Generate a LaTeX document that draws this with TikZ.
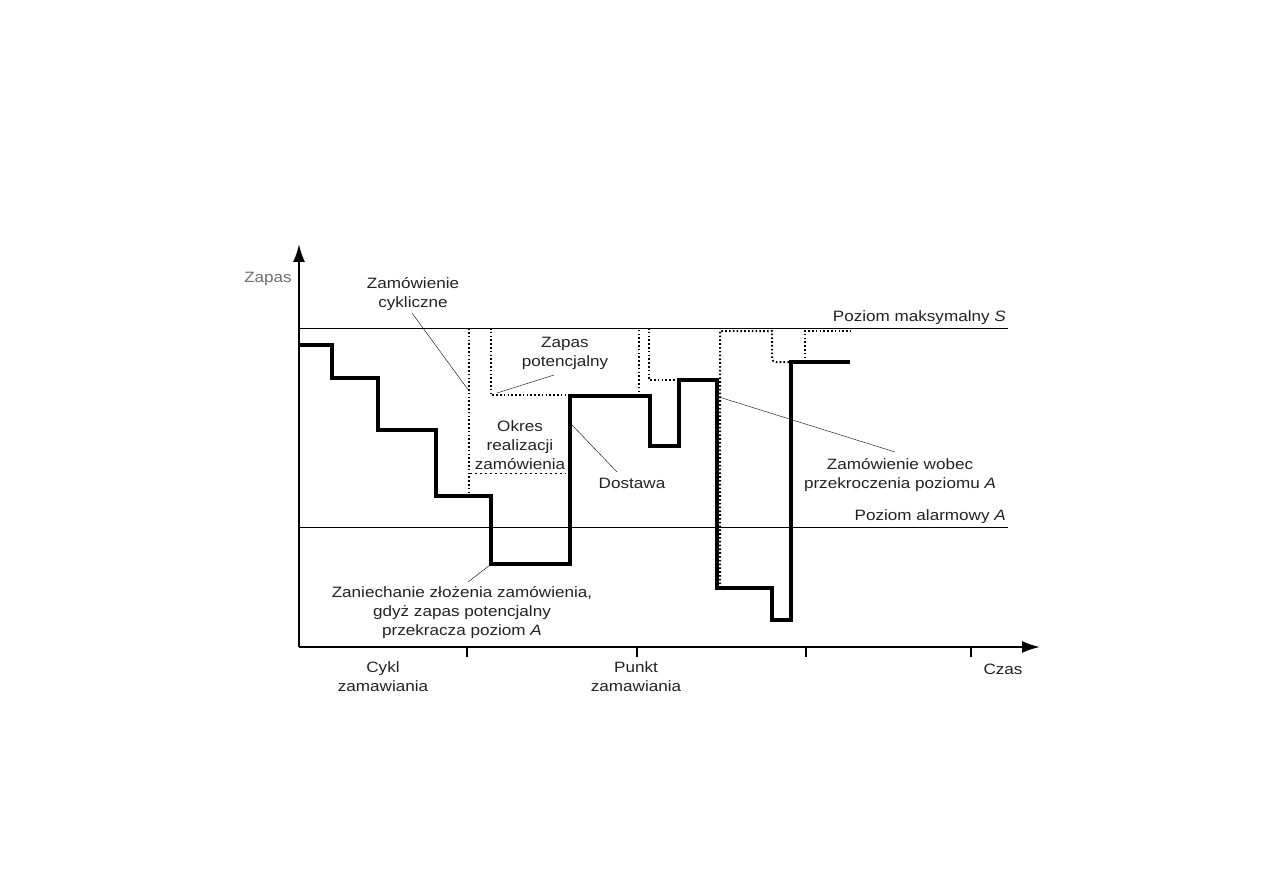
\documentclass[tikz,border=0pt]{standalone}
\usepackage{fontspec}
\setmainfont{Liberation Sans}[FakeStretch=1.14]
\usetikzlibrary{arrows.meta}
\definecolor{txt}{HTML}{222222}
\definecolor{thin}{HTML}{8A8A8A}
\tikzset{
  lbl/.style={inner sep=0pt, align=center, text=txt, font=\fontsize{15}{19}\selectfont},
  axis/.style={line width=2pt, black},
  stock/.style={line width=3.2pt, black, line join=miter},
  pot/.style={line width=2pt, black, dash pattern=on 1.6pt off 2.2pt},
  okres/.style={line width=1pt, thin, dash pattern=on 2pt off 3pt},
  level/.style={line width=1pt, thin},
  leader/.style={line width=1pt, thin}
}
\begin{document}
\begin{tikzpicture}[x=1pt,y=-1pt]
\useasboundingbox (0,0) rectangle (1263,893);
% level lines
\coordinate (sL) at (299,328); \coordinate (sR) at (1008,328);
\coordinate (aL) at (299,527); \coordinate (aR) at (1008,527);
\draw[level] (sL) -- (sR);
\draw[level] (aL) -- (aR);
% axes
\coordinate (O) at (299,647);
\coordinate (ytip) at (299,244);
\coordinate (xtip) at (1040,647);
\draw[axis,-{Latex[length=18pt,width=12pt]}] (O) -- (ytip);
\draw[axis,-{Latex[length=18pt,width=12pt]}] (O) -- (xtip);
\foreach \x in {467,637,806,971}{\draw[line width=1.3pt] (\x,647) -- (\x,657);}
% potential stock (dotted)
\draw[pot] (469,497) -- (469,328);
\draw[pot] (491,328) -- (491,395) -- (570,395);
\draw[okres] (470,473) -- (566,473);
\draw[pot] (639,396) -- (639,328);
\draw[pot] (649,328) -- (649,380) -- (679,380);
\draw[pot] (720,588) -- (720,331) -- (772,331) -- (772,356) [rounded corners=4pt] -- (772,362) -- (790,362);
\draw[pot] (805,362) -- (805,331) -- (851,331);
% stock
\draw[stock] (299,345) -- (332,345) -- (332,378) -- (378,378) -- (378,430) -- (436,430)
  -- (436,496) -- (491,496) -- (491,564) -- (570,564) -- (570,396) -- (650,396)
  -- (650,446) -- (679,446) -- (679,380) -- (717,380) -- (717,588) -- (772,588)
  -- (772,620) -- (791,620) -- (791,362) -- (850,362);
% labels
\node[lbl, text=thin!80!black, anchor=east] (zapas) at (292,279) {Zapas};
\node[lbl, anchor=south east] (smax) at (1006,325) {Poziom maksymalny \textit{S}};
\node[lbl, anchor=south east] (salarm) at (1006,524) {Poziom alarmowy \textit{A}};
\node[lbl] (cykl) at (413,294) {Zamówienie\\cykliczne};
\node[lbl] (potenc) at (565,353) {Zapas\\potencjalny};
\node[lbl] (okresl) at (520,445) {Okres\\realizacji\\zamówienia};
\node[lbl] (dost) at (632,483) {Dostawa};
\node[lbl] (wobec) at (900,475) {Zamówienie wobec\\przekroczenia poziomu \textit{A}};
\node[lbl] (zaniech) at (462,613) {Zaniechanie złożenia zamówienia,\\gdyż zapas potencjalny\\przekracza poziom \textit{A}};
\node[lbl] (cyklz) at (383,677) {Cykl\\zamawiania};
\node[lbl] (punkt) at (636,677) {Punkt\\zamawiania};
\node[lbl] (czas) at (1003,669) {Czas};
% leader lines
\coordinate (c1) at (412,313); \coordinate (c1e) at (469,391);
\coordinate (c2) at (554,375); \coordinate (c2e) at (497,393);
\coordinate (c3) at (617,472); \coordinate (c3e) at (572,425);
\coordinate (c4) at (895,452); \coordinate (c4e) at (719,397);
\coordinate (c5) at (468,582); \coordinate (c5e) at (490,565);
\draw[leader] (c1) -- (c1e);
\draw[leader] (c2) -- (c2e);
\draw[leader] (c3) -- (c3e);
\draw[leader] (c4) -- (c4e);
\draw[leader] (c5) -- (c5e);
\end{tikzpicture}
\end{document}
